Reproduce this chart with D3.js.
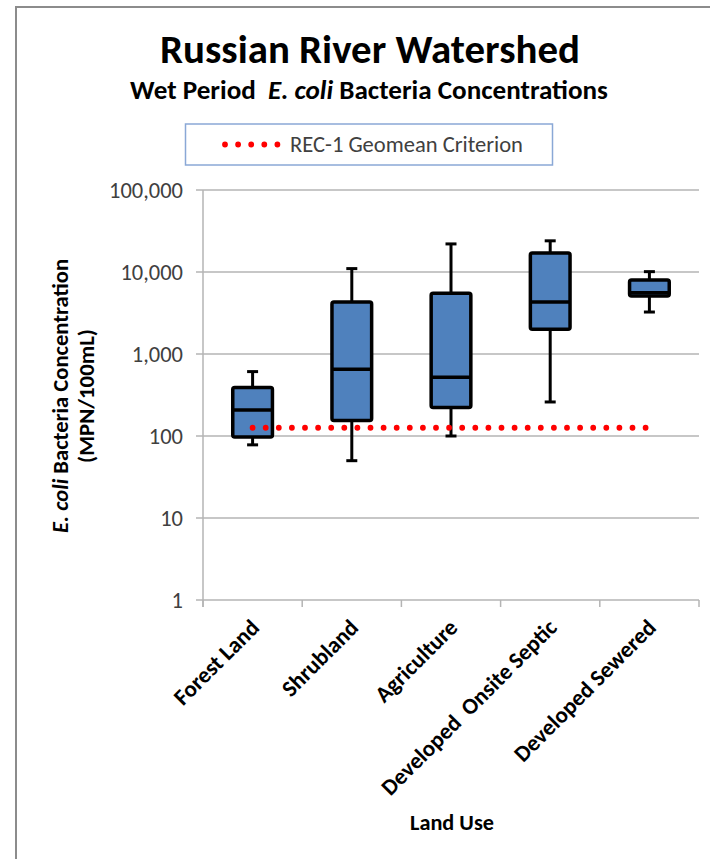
<!DOCTYPE html>
<html>
<head>
<meta charset="utf-8">
<script src="https://cdn.jsdelivr.net/npm/d3@7/dist/d3.min.js"></script>
<style>
  html, body { margin: 0; padding: 0; background: #fff; }
  svg { display: block; }
  text { font-family: Carlito, Lato, "Open Sans", sans-serif; white-space: pre; }
</style>
</head>
<body>
<svg id="chart" width="710" height="859"></svg>
<script>
// ---- data ----
const categories = ["Forest Land", "Shrubland", "Agriculture", "Developed  Onsite Septic", "Developed Sewered"];
const whiskerMin = [78, 50, 100, 260, 3250];
const q1 = [97, 155, 222, 2000, 5100];
const median = [207, 650, 520, 4300, 5600];
const q3 = [390, 4300, 5500, 17000, 8000];
const whiskerMax = [610, 11000, 22000, 24000, 10100];
const criterionValue = 126;
const yTickValues = [1, 10, 100, 1000, 10000, 100000];
const titleText = "Russian River Watershed";
const legendLabel = "REC-1 Geomean Criterion";
const xAxisTitle = "Land Use";

const svg = d3.select("#chart");

// fit text to a target width by scaling font-size
function fit(sel, target) {
  const fs = parseFloat(sel.attr("font-size"));
  const w = sel.node().getComputedTextLength();
  if (w > 0) sel.attr("font-size", (fs * target / w).toFixed(2));
  return sel;
}

// frame
svg.append("rect").attr("x", 16).attr("y", 7).attr("width", 720).attr("height", 900)
  .attr("fill", "none").attr("stroke", "#8c8c8c").attr("stroke-width", 2);

// scales
const x = d3.scaleBand().domain(categories).range([203, 699]).paddingInner(0).paddingOuter(0);
const y = d3.scaleLog().domain([1, 100000]).range([600, 190]);

// gridlines
svg.append("g").selectAll("line").data(yTickValues).join("line")
  .attr("x1", 196).attr("x2", 699)
  .attr("y1", d => y(d)).attr("y2", d => y(d))
  .attr("stroke", "#b4b4b4").attr("stroke-width", 1.5);

// y axis line
svg.append("line").attr("x1", 203).attr("x2", 203).attr("y1", y(100000)).attr("y2", 607)
  .attr("stroke", "#b4b4b4").attr("stroke-width", 1.5);

// x axis ticks at category boundaries
const bounds = categories.map(c => x(c)).concat([x(categories[categories.length - 1]) + x.bandwidth()]);
svg.append("g").selectAll("line").data(bounds).join("line")
  .attr("x1", d => d).attr("x2", d => d).attr("y1", 600).attr("y2", 607)
  .attr("stroke", "#b4b4b4").attr("stroke-width", 1.5);

// y tick labels
const fmt = d3.format(",");
const yl = svg.append("g").selectAll("text").data(yTickValues).join("text")
  .attr("x", 183).attr("y", d => y(d)).attr("dy", "0.35em")
  .attr("text-anchor", "end").attr("font-size", 17).attr("fill", "#404040")
  .text(d => fmt(d));
{
  const big = yl.filter(d => d === 100000);
  const w = big.node().getComputedTextLength();
  yl.attr("font-size", (17 * 74 / w).toFixed(2));
}

// boxes
const bw = x.bandwidth() * 0.4;
const cx = i => x(categories[i]) + x.bandwidth() / 2;
const idx = d3.range(categories.length);
const g = svg.append("g");
// whiskers
g.selectAll(".wh").data(idx).join("line")
  .attr("x1", cx).attr("x2", cx)
  .attr("y1", i => y(whiskerMin[i])).attr("y2", i => y(whiskerMax[i]))
  .attr("stroke", "#000").attr("stroke-width", 3);
g.selectAll(".capT").data(idx).join("line")
  .attr("x1", i => cx(i) - 5.5).attr("x2", i => cx(i) + 5.5)
  .attr("y1", i => y(whiskerMax[i])).attr("y2", i => y(whiskerMax[i]))
  .attr("stroke", "#000").attr("stroke-width", 3);
g.selectAll(".capB").data(idx).join("line")
  .attr("x1", i => cx(i) - 5.5).attr("x2", i => cx(i) + 5.5)
  .attr("y1", i => y(whiskerMin[i])).attr("y2", i => y(whiskerMin[i]))
  .attr("stroke", "#000").attr("stroke-width", 3);
g.selectAll(".box").data(idx).join("rect")
  .attr("x", i => cx(i) - bw / 2).attr("width", bw)
  .attr("y", i => y(q3[i])).attr("height", i => y(q1[i]) - y(q3[i]))
  .attr("rx", 2)
  .attr("fill", "#4f81bd").attr("stroke", "#000").attr("stroke-width", 3.5);
g.selectAll(".med").data(idx).join("line")
  .attr("x1", i => cx(i) - bw / 2).attr("x2", i => cx(i) + bw / 2)
  .attr("y1", i => y(median[i])).attr("y2", i => y(median[i]))
  .attr("stroke", "#000").attr("stroke-width", 3.5);

// criterion line
svg.append("line")
  .attr("x1", cx(0)).attr("x2", cx(categories.length - 1) + 1)
  .attr("y1", y(criterionValue)).attr("y2", y(criterionValue))
  .attr("stroke", "#ff0000").attr("stroke-width", 5.8)
  .attr("stroke-linecap", "round").attr("stroke-dasharray", "0 13.1");

// titles
const t1 = svg.append("text").attr("x", 370).attr("y", 63).attr("text-anchor", "middle")
  .attr("font-size", 33).attr("font-weight", "bold").attr("fill", "#000").text(titleText);
fit(t1, 420);

const t2 = svg.append("text").attr("x", 369).attr("y", 99).attr("text-anchor", "middle")
  .attr("font-size", 20).attr("font-weight", "bold").attr("fill", "#000");
t2.append("tspan").text("Wet Period  ");
t2.append("tspan").attr("font-style", "italic").text("E. coli");
t2.append("tspan").text(" Bacteria Concentrations");
fit(t2, 478);

// legend
svg.append("rect").attr("x", 185.5).attr("y", 124).attr("width", 367).attr("height", 41)
  .attr("fill", "#fff").attr("stroke", "#8aa8d6").attr("stroke-width", 1.5);
svg.append("line").attr("x1", 225).attr("x2", 278).attr("y1", 144.5).attr("y2", 144.5)
  .attr("stroke", "#ff0000").attr("stroke-width", 5.8)
  .attr("stroke-linecap", "round").attr("stroke-dasharray", "0 13.1");
const lt = svg.append("text").attr("x", 290).attr("y", 151.5)
  .attr("font-size", 19).attr("fill", "#404040").text(legendLabel);
fit(lt, 233);

// y axis title
const yt1 = svg.append("text").attr("transform", "translate(68,396) rotate(-90)")
  .attr("text-anchor", "middle").attr("font-size", 17).attr("font-weight", "bold").attr("fill", "#000");
yt1.append("tspan").attr("font-style", "italic").text("E. coli");
yt1.append("tspan").text(" Bacteria Concentration");
fit(yt1, 274);
const yt2 = svg.append("text").attr("transform", "translate(94,396) rotate(-90)")
  .attr("text-anchor", "middle").attr("font-size", 17).attr("font-weight", "bold").attr("fill", "#000")
  .text("(MPN/100mL)");
fit(yt2, 134);

// x axis title
const xt = svg.append("text").attr("x", 452).attr("y", 830).attr("text-anchor", "middle")
  .attr("font-size", 17).attr("font-weight", "bold").attr("fill", "#000").text(xAxisTitle);
fit(xt, 84);
const xfs = parseFloat(xt.attr("font-size")) * 1.03;

// x category labels
svg.append("g").selectAll("text").data(categories).join("text")
  .attr("transform", d => `translate(${x(d) + x.bandwidth() / 2 + 8},${629}) rotate(-45)`)
  .attr("text-anchor", "end").attr("font-size", xfs).attr("font-weight", "bold").attr("fill", "#000")
  .text(d => d);
</script>
</body>
</html>
